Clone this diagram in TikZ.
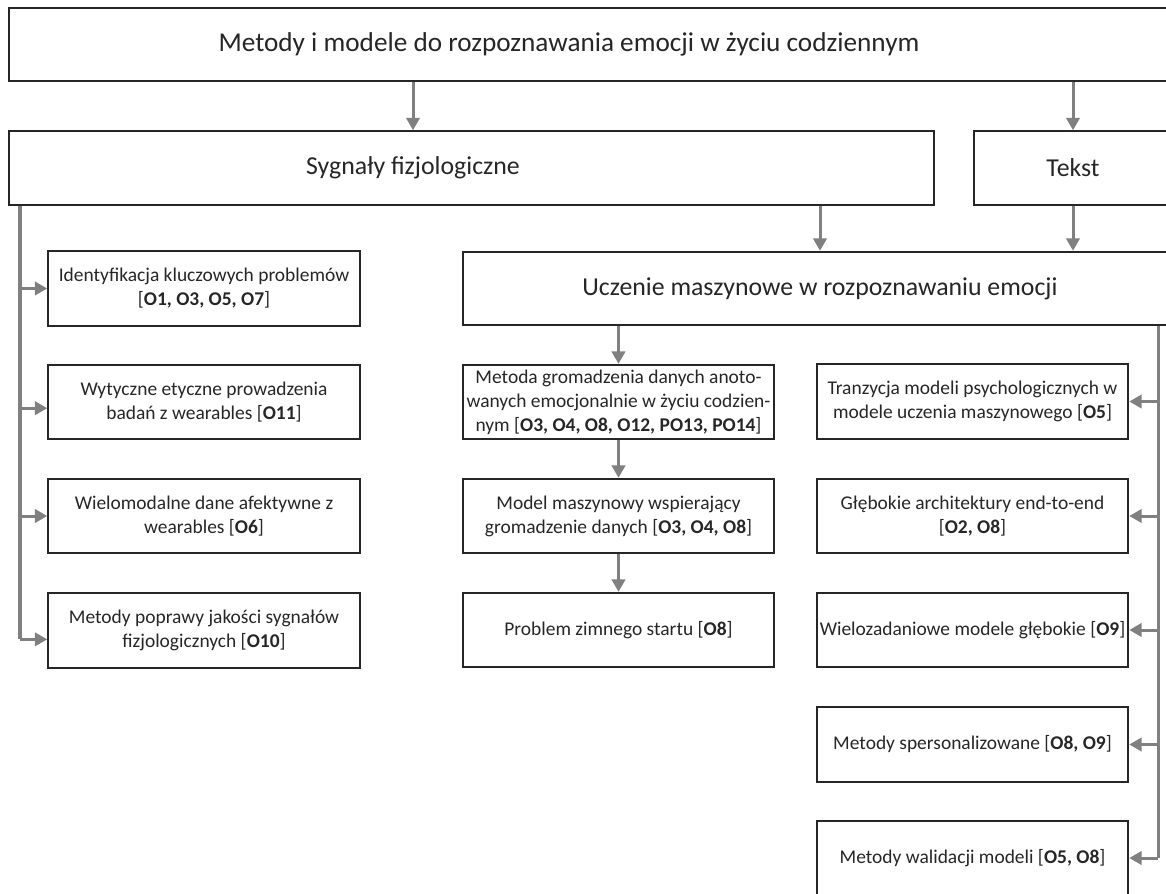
\documentclass[tikz,border=0pt]{standalone}
\usepackage{fontspec}
\setmainfont{Carlito}
\usetikzlibrary{arrows.meta}

\tikzset{
  box/.style={draw=black!85, line width=1.1pt, align=center, inner sep=1pt,
    minimum width=176.2pt, minimum height=42.1pt, text=black!85,
    font=\fontsize{11}{13.6}\selectfont},
  bigbox/.style={draw=black!85, line width=1.1pt, minimum height=41.6pt},
  hdr/.style={text=black!85, font=\fontsize{14.6}{17.5}\selectfont},
  conn/.style={draw=black!50, line width=1.7pt,
    -{Triangle[length=7pt,width=7.5pt,fill=black!50]}},
  spine/.style={draw=black!50, line width=1.7pt}
}

\begin{document}
\begin{tikzpicture}[x=0.5656pt, y=-0.5656pt]
    \useasboundingbox (0,0) rectangle (1166,893);
    \clip (0,0) rectangle (1166,893);

    \node[bigbox, minimum width=668pt] (top) at (599.5,44.5) {};
    \node[hdr, font=\fontsize{15.4}{18}\selectfont] (toplbl) at (569,44.5) {Metody i modele do rozpoznawania emocji w życiu codziennym};
    \node[bigbox, minimum width=523.2pt] (syg) at (471.5,168) {};
    \node[hdr] (syglbl) at (413,168) {Sygnały fizjologiczne};
    \node[bigbox, hdr, minimum width=112pt] (tekst) at (1073,168) {Tekst};
    \node[bigbox, hdr, minimum width=403.8pt] (ucz) at (820,288.5) {Uczenie maszynowe w rozpoznawaniu emocji};

    \node[box] (l1) at (204,288.5) {Identyfikacja kluczowych problemów\\\relax[\textbf{O1, O3, O5, O7}]};
    \node[box] (l2) at (204,402) {Wytyczne etyczne prowadzenia\\badań z wearables [\textbf{O11}]};
    \node[box] (l3) at (204,516) {Wielomodalne dane afektywne z\\wearables [\textbf{O6}]};
    \node[box] (l4) at (204,630.5) {Metody poprawy jakości sygnałów\\fizjologicznych [\textbf{O10}]};

    \node[box] (m1) at (618.5,402) {Metoda gromadzenia danych anoto-\\wanych emocjonalnie w życiu codzien-\\nym [\textbf{O3, O4, O8, O12, PO13, PO14}]};
    \node[box] (m2) at (618.5,516) {Model maszynowy wspierający\\gromadzenie danych [\textbf{O3, O4, O8}]};
    \node[box] (m3) at (618.5,630) {Problem zimnego startu [\textbf{O8}]};

    \node[box] (r1) at (972.5,401.5) {Tranzycja modeli psychologicznych w\\modele uczenia maszynowego [\textbf{O5}]};
    \node[box] (r2) at (972.5,516) {Głębokie architektury end-to-end\\\relax[\textbf{O2, O8}]};
    \node[box] (r3) at (972.5,630) {Wielozadaniowe modele głębokie [\textbf{O9}]};
    \node[box] (r4) at (972.5,744.5) {Metody spersonalizowane [\textbf{O8, O9}]};
    \node[box] (r5) at (972.5,858) {Metody walidacji modeli [\textbf{O5, O8}]};

    \coordinate (lsp) at (20,0);
    \coordinate (rsp) at (1158,0);

    \draw[conn] (top.south -| syglbl) -- (syg.north -| syglbl);
    \draw[conn] (top.south -| tekst) -- (tekst.north);
    \draw[conn] (syg.south -| ucz) -- (ucz.north);
    \draw[conn] (tekst.south) -- (ucz.north -| tekst);

    \draw[conn] (ucz.south -| m1) -- (m1.north);
    \draw[conn] (m1.south) -- (m2.north);
    \draw[conn] (m2.south) -- (m3.north);

    \draw[spine] (syg.south -| lsp) -- ([yshift=-5pt]l4.west -| lsp);
    \draw[conn] (l1.west -| lsp) -- (l1.west);
    \draw[conn] ([yshift=-3.5pt]l2.west -| lsp) -- ([yshift=-3.5pt]l2.west);
    \draw[conn] (l3.west -| lsp) -- (l3.west);
    \draw[conn] ([yshift=-5pt]l4.west -| lsp) -- ([yshift=-5pt]l4.west);

    \draw[spine] (ucz.south -| rsp) -- (r5.east -| rsp);
    \foreach \n in {r1,r2,r3,r4,r5}
        \draw[conn] (\n.east -| rsp) -- (\n.east);
\end{tikzpicture}
\end{document}
